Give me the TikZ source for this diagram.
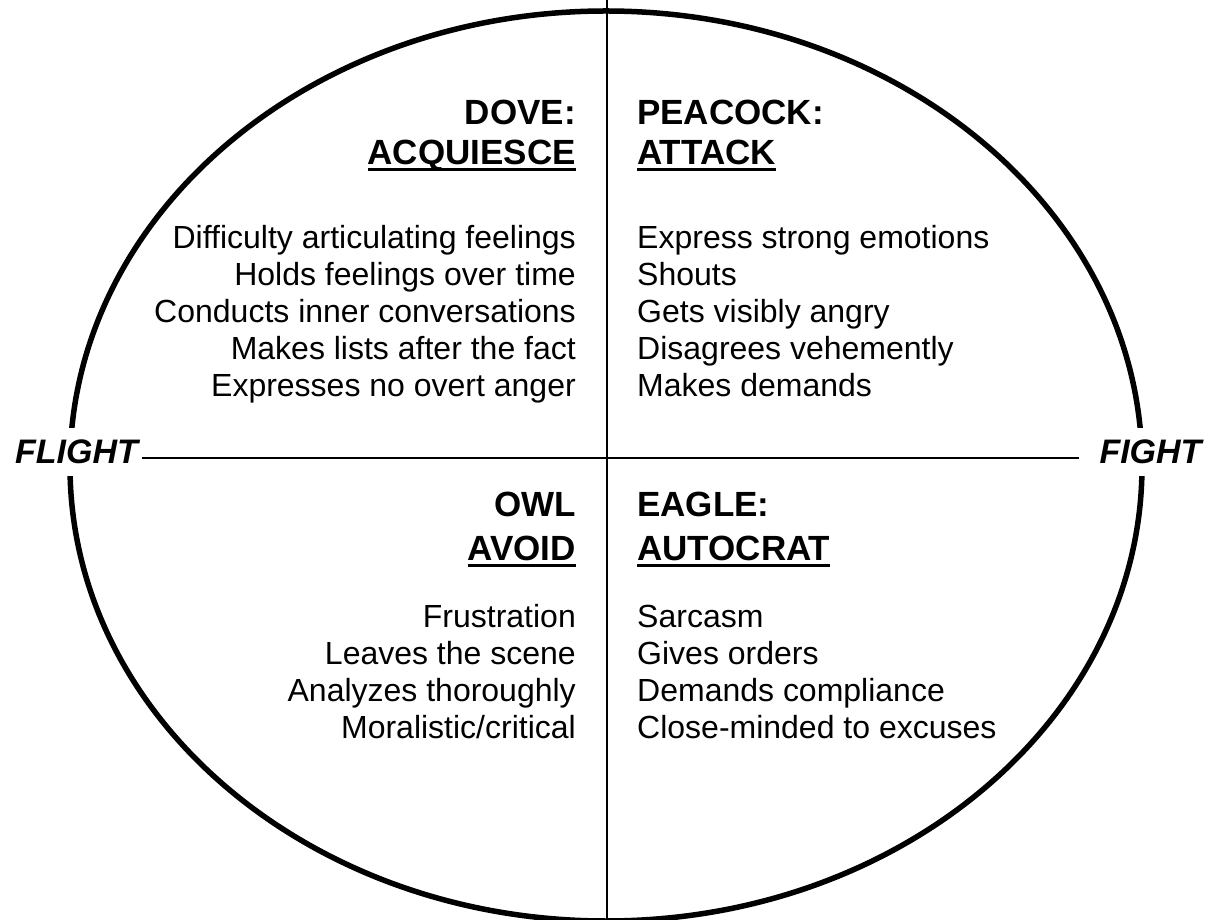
\documentclass[tikz,border=0pt]{standalone}
\usepackage{fontspec}
\setmainfont{Liberation Sans}
\usepackage{tikz}
\usetikzlibrary{positioning}
\newcommand{\ruled}[1]{\setbox0\hbox{#1}\rlap{\rule[-6pt]{\wd0}{2.5pt}}\box0}
\tikzset{oval/.style={
    draw,
    line width=5.5pt,
}}
\tikzset{divider/.style={
    draw,
    line width=2.5pt,
}}
\tikzset{head/.style={
    font=\fontsize{35}{40}\selectfont\bfseries,
    inner sep=0pt,
}}
\tikzset{trait/.style={
    font=\fontsize{32}{37}\selectfont,
    inner sep=0pt,
}}
\tikzset{pole/.style={
    font=\fontsize{34}{40}\selectfont\bfseries\itshape,
    fill=white,
    inner ysep=12pt,
}}

\begin{document}
\begin{tikzpicture}[x=1pt,y=1pt]
            \useasboundingbox (0,0) rectangle (1210,919);
            \clip (0,0) rectangle (1210,919);
            \fill[white] (0,0) rectangle (1210,919);

            \draw[oval] (606,453) ellipse [x radius=536, y radius=455];

            % fight or flight
            \node[pole, anchor=base, inner xsep=4pt] (flight) at (76.5,455) {FLIGHT};
            \node[pole, anchor=base, inner xsep=20pt] (fight) at (1150.5,455) {FIGHT};
            \draw[divider] (flight.east |- 0,461) -- (fight.west |- 0,461);

            \coordinate (top) at (607,919);
            \coordinate (bottom) at (607,0);
            \draw[divider] (top) -- (bottom);

            % upper left (base = last line)
            \node[head, anchor=base east] (dove) at (576,794) {DOVE:};
            \node[head, below=40pt of dove.base east, anchor=base east] (acquiesce) {\ruled{ACQUIESCE}};
            \node[trait, align=right, anchor=base east] (dovetraits) at (576,522)
                {Difficulty articulating feelings\\Holds feelings over time\\Conducts inner conversations\\Makes lists after the fact\\Expresses no overt anger};

            % upper right
            \node[head, anchor=base west] (peacock) at (637,794) {PEACOCK:};
            \node[head, below=40pt of peacock.base west, anchor=base west] (attack) {\ruled{ATTACK}};
            \node[trait, align=left, anchor=base west] (peacocktraits) at (637,522)
                {Express strong emotions\\Shouts\\Gets visibly angry\\Disagrees vehemently\\Makes demands};

            % lower left
            \node[head, anchor=base east] (owl) at (576,402) {OWL};
            \node[head, below=44pt of owl.base east, anchor=base east] (avoid) {\ruled{AVOID}};
            \node[trait, align=right, anchor=base east] (owltraits) at (576,181)
                {Frustration\\Leaves the scene\\Analyzes thoroughly\\Moralistic/critical};

            % lower right
            \node[head, anchor=base west] (eagle) at (637,402) {EAGLE:};
            \node[head, below=44pt of eagle.base west, anchor=base west] (autocrat) {\ruled{AUTOCRAT}};
            \node[trait, align=left, anchor=base west] (eagletraits) at (637,181)
                {Sarcasm\\Gives orders\\Demands compliance\\Close-minded to excuses};

        \end{tikzpicture}
\end{document}
